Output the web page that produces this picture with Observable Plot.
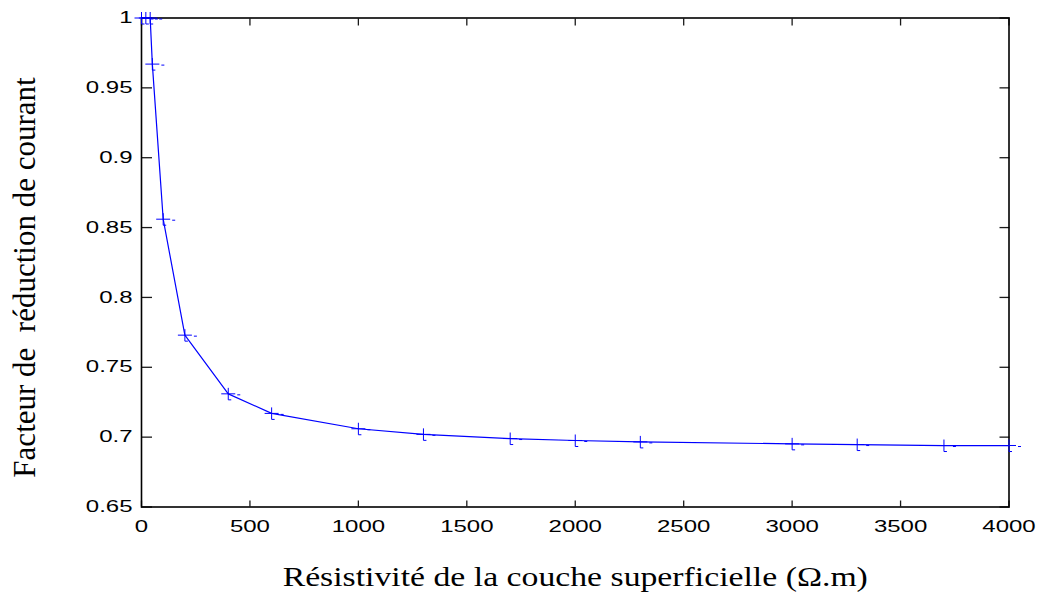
<!DOCTYPE html>
<html>
<head>
<meta charset="utf-8">
<script src="https://cdn.jsdelivr.net/npm/d3@7"></script>
<script src="https://cdn.jsdelivr.net/npm/@observablehq/plot@0.6"></script>
<style>
  html, body { margin: 0; padding: 0; background: #ffffff; }
  #chart { width: 1041px; height: 594px; }
</style>
</head>
<body>
<div id="chart"></div>
<script>
// ---- Data ----
const resistivity = [0, 20, 40, 50, 100, 200, 400, 600, 1000, 1300, 1700, 2000, 2300, 3000, 3300, 3700, 4000];
const reductionFactor = [1.0, 1.0, 1.0, 0.967, 0.856, 0.773, 0.731, 0.717, 0.706, 0.702, 0.699, 0.6976, 0.6966, 0.6952, 0.6947, 0.694, 0.694];

const xTicks = [0, 500, 1000, 1500, 2000, 2500, 3000, 3500, 4000];
const xTickLabels = ["0", "500", "1000", "1500", "2000", "2500", "3000", "3500", "4000"];
const yTicks = [0.65, 0.7, 0.75, 0.8, 0.85, 0.9, 0.95, 1];
const yTickLabels = ["0.65", "0.7", "0.75", "0.8", "0.85", "0.9", "0.95", "1"];

const xTitle = "Résistivité de la couche superficielle (Ω.m)";
const yTitle = "Facteur de\u00a0 réduction de courant";

// ---- Build ----
const data = resistivity.map((x, i) => ({x, y: reductionFactor[i]}));

// MATLAB-like "+" marker (with the small printing artefact hook)
const crossSymbol = {
  draw(ctx) {
    ctx.moveTo(-7, 0); ctx.lineTo(7, 0);
    ctx.moveTo(0, -6); ctx.lineTo(0, 6); ctx.lineTo(3, 6);
    ctx.moveTo(9, 1); ctx.lineTo(12, 1);
  }
};

const xLab = d => xTickLabels[xTicks.indexOf(d)];
const yLab = d => yTickLabels[yTicks.indexOf(d)];
const tickColor = "#1a1a1a";

const chart = Plot.plot({
  width: 1041,
  height: 594,
  marginLeft: 141,
  marginRight: 32.5,
  marginTop: 17.5,
  marginBottom: 87.5,
  style: {fontFamily: "'Liberation Sans', Arial, sans-serif", fontSize: "16px", background: "#ffffff", color: "#000000"},
  x: {domain: [0, 4000]},
  y: {domain: [0.65, 1]},
  marks: [
    Plot.axisX(xTicks, {anchor: "bottom", tickSize: -6, tickPadding: 19.5, tickFormat: xLab, label: null, stroke: tickColor, strokeWidth: 1.3}),
    Plot.axisX(xTicks, {anchor: "top", tickSize: -7, tickPadding: 0, tickFormat: () => "", label: null, stroke: tickColor, strokeWidth: 1.3}),
    Plot.axisY(yTicks, {anchor: "left", tickSize: -11, tickPadding: 20, tickFormat: yLab, label: null, stroke: tickColor, strokeWidth: 1.3}),
    Plot.axisY(yTicks, {anchor: "right", tickSize: -10, tickPadding: 0, tickFormat: () => "", label: null, stroke: tickColor, strokeWidth: 1.3}),
    Plot.frame({stroke: "#000000", strokeWidth: 1.6}),
    Plot.line(data, {x: "x", y: "y", stroke: "#0000ff", strokeWidth: 1.2}),
    Plot.dot(data, {x: "x", y: "y", symbol: crossSymbol, stroke: "#0000ff", fill: "none", strokeWidth: 1}),
    Plot.text([xTitle], {frameAnchor: "bottom", textAnchor: "middle", lineAnchor: "bottom", dy: 78.5, fontFamily: "'Liberation Serif', 'Times New Roman', serif", fontSize: 27, fill: "#000000"}),
    Plot.text([yTitle], {frameAnchor: "left", textAnchor: "middle", lineAnchor: "top", rotate: -90, dx: -129, dy: 15, fontFamily: "'Liberation Serif', 'Times New Roman', serif", fontSize: 31, fill: "#000000"})
  ]
});

document.getElementById("chart").appendChild(chart);

// Horizontal stretch of text as in the reference (exported figure was widened)
function stretch(el, sx) {
  const t = el.getAttribute("transform");
  if (t) {
    el.setAttribute("transform", t + ` scale(${sx},1)`);
  } else {
    const x = +(el.getAttribute("x") || 0), y = +(el.getAttribute("y") || 0);
    el.setAttribute("transform", `translate(${x},${y}) scale(${sx},1) translate(${-x},${-y})`);
  }
}
chart.querySelectorAll('g[aria-label="x-axis tick label"] text, g[aria-label="y-axis tick label"] text').forEach(el => stretch(el, 1.5));
chart.querySelectorAll('g[aria-label="text"] text').forEach(el => {
  if (el.textContent === xTitle) stretch(el, 1.25);
});
</script>
</body>
</html>
